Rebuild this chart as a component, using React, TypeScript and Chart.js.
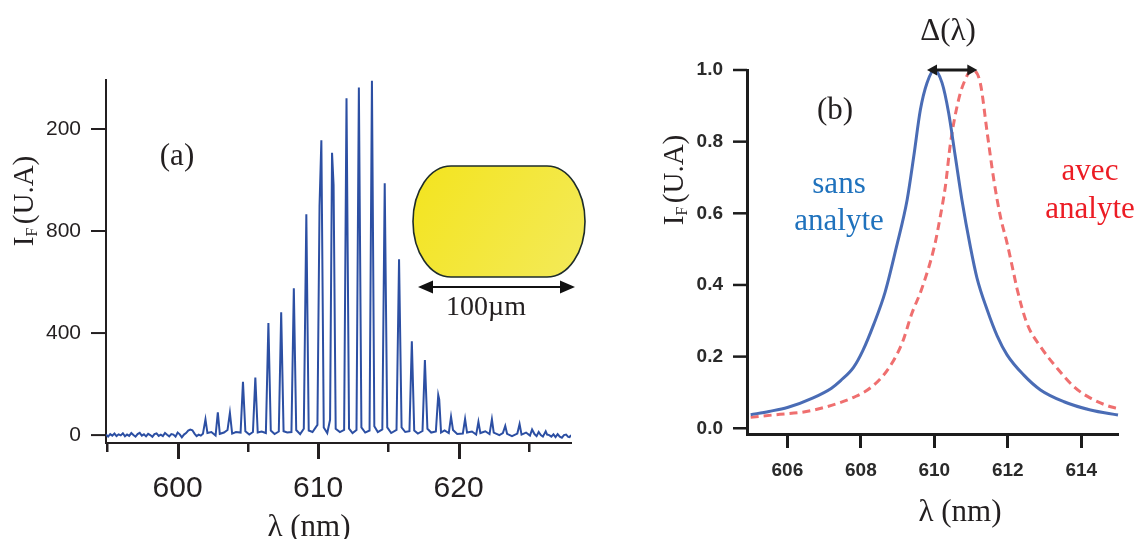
import { useEffect, useRef } from "react";
import { Chart, registerables } from "chart.js";

Chart.register(...registerables);

// ---------- Panel (a) data ----------
const lambdaA = [
  594.9, 595.05, 595.2, 595.35, 595.5, 595.65, 595.8, 595.95, 596.1, 596.25,
  596.4, 596.55, 596.7, 596.85, 597.0, 597.15, 597.3, 597.45, 597.6, 597.75,
  597.9, 598.05, 598.2, 598.35, 598.5, 598.65, 598.8, 598.95, 599.1, 599.25,
  599.4, 599.55, 599.7, 599.85, 600.0, 600.15, 600.3, 600.45, 600.6, 600.75,
  600.9, 601.05, 601.2, 601.35, 601.5, 601.65,
  601.8, 601.98, 602.12, 602.4, 602.7, 602.86, 603.0, 603.3, 603.55, 603.72,
  603.88, 604.15, 604.48, 604.65, 604.82, 605.1, 605.36, 605.53, 605.7, 605.98,
  606.28, 606.46, 606.63, 606.9, 607.2, 607.37, 607.54, 607.8, 608.1, 608.27,
  608.44, 608.72, 608.98, 609.16, 609.33, 609.6, 609.95, 610.1, 610.23, 610.4,
  610.65, 610.85, 610.99, 611.1, 611.25, 611.55, 611.85, 612.02, 612.2, 612.45,
  612.73, 612.9, 613.08, 613.35, 613.66, 613.83, 614.0, 614.25, 614.57, 614.74,
  614.92, 615.2, 615.58, 615.76, 615.94, 616.2, 616.5, 616.67, 616.84, 617.1,
  617.43, 617.6, 617.78, 618.05, 618.38, 618.55, 618.62, 618.75, 619.0, 619.3,
  619.46, 619.6, 619.9, 620.3, 620.46, 620.6, 620.95, 621.25, 621.41, 621.55,
  621.9, 622.2, 622.37, 622.5, 622.9, 623.15, 623.32, 623.45, 623.8, 624.18,
  624.34, 624.48, 624.8, 625.08, 625.23, 625.4,
  625.55, 625.7, 625.85, 626.0, 626.2, 626.3, 626.45, 626.6, 626.75, 626.9,
  627.05, 627.2, 627.35, 627.5, 627.65, 627.8, 627.9, 628.0,
];
const intensityA = [
  2, -6, 4, -2, 6, -4, 3, -1, 7, -5,
  2, -3, 8, 0, -6, 4, 9, -2, 3, -5,
  5, 0, -7, 4, 7, -3, 2, -4, 8, 1,
  -5, 4, 2, -6, 10, 3, -9, 2, 8, 18,
  22, 19, 6, -4, 2, -2,
  5, 62, 8, 12, -2, 89, 5, 10, 20, 87,
  6, 12, 10, 209, 15, 2, 12, 226, 10, 14,
  8, 439, 18, 4, 14, 481, 15, 10, 12, 576,
  20, 4, 25, 866, 18, 12, 40, 900, 1156, 30,
  8, 60, 1107, 980, 25, 12, 20, 1320, 25, 8,
  20, 1363, 30, 10, 18, 1389, 35, 12, 22, 987,
  30, 8, 20, 689, 30, 12, 15, 368, 18, 6,
  16, 294, 25, 10, 14, 157, 140, 10, 18, 8,
  72, 20, 4, 6, 63, 10, 14, 2, 52, 8,
  15, 4, 62, 10, 0, 8, 36, 5, -4, 6,
  43, 2, 10, -2, 22, 4,
  -4, 12, 0, -6, 15, 2, 0, -6, 3, -8,
  4, -6, -10, 0, 2, -7, -8, 0,
];
const yTickValuesA = [0, 400, 800, 1200];
const yTickLabelsA = ["0", "400", "800", "200"];
const xMajorTicksA = [600, 610, 620];
const xMinorTicksA = [595, 605, 615, 625];

// ---------- Panel (b) data ----------
const lambdaSans = [
  605.0, 605.5, 606.0, 606.7, 607.2, 607.45, 607.8, 608.05, 608.35, 608.66,
  608.97, 609.26, 609.44, 609.62, 609.8, 610.0, 610.21, 610.39, 610.57, 610.75,
  610.98, 611.16, 611.44, 611.71, 611.98, 612.43, 612.89, 613.53, 614.25, 615.0,
];
const intensitySans = [
  0.038, 0.047, 0.058, 0.085, 0.112, 0.133, 0.17, 0.216, 0.29, 0.38,
  0.507, 0.638, 0.759, 0.889, 0.964, 1.0, 0.964, 0.88, 0.759, 0.638,
  0.507, 0.42, 0.33, 0.258, 0.205, 0.149, 0.107, 0.074, 0.051, 0.037,
];
const lambdaAvec = [
  605.0, 605.7, 606.48, 607.2, 607.84, 608.3, 608.76, 609.12, 609.39, 609.66,
  610.0, 610.16, 610.3, 610.44, 610.66, 610.84, 611.02, 611.25, 611.44, 611.62,
  611.8, 611.98, 612.16, 612.25, 612.52, 612.89, 613.34, 613.8, 614.25, 614.8, 615.0,
];
const intensityAvec = [
  0.031, 0.038, 0.046, 0.064, 0.088, 0.116, 0.168, 0.237, 0.321, 0.39,
  0.507, 0.59, 0.675, 0.796, 0.917, 0.973, 1.0, 0.964, 0.824, 0.693,
  0.59, 0.517, 0.433, 0.39, 0.293, 0.228, 0.168, 0.116, 0.084, 0.06, 0.055,
];
const yTickValuesB = [0, 0.2, 0.4, 0.6, 0.8, 1.0];
const yTickLabelsB = ["0.0", "0.2", "0.4", "0.6", "0.8", "1.0"];
const xTickValuesB = [606, 608, 610, 612, 614];
const xTickLabelsB = ["606", "608", "610", "612", "614"];

const SERIF = '"Liberation Serif", "Times New Roman", serif';
const SANS = '"Liberation Sans", Arial, sans-serif';

function drawIF(ctx: CanvasRenderingContext2D, x: number, cy: number, size: number, color: string) {
  ctx.save();
  ctx.translate(x, cy);
  ctx.rotate(-Math.PI / 2);
  ctx.fillStyle = color;
  ctx.textAlign = "left";
  ctx.textBaseline = "alphabetic";
  const main = `${size}px ${SERIF}`;
  const sub = `${Math.round(size * 0.56)}px ${SERIF}`;
  ctx.font = main;
  const wI = ctx.measureText("I").width;
  const wR = ctx.measureText("(U.A)").width;
  ctx.font = sub;
  const wF = ctx.measureText("F").width;
  const gap = size * 0.12;
  const total = wI + wF + gap + wR;
  let px = -total / 2;
  ctx.font = main;
  ctx.fillText("I", px, 0);
  px += wI;
  ctx.font = sub;
  ctx.fillText("F", px, size * 0.15);
  px += wF + gap;
  ctx.font = main;
  ctx.fillText("(U.A)", px, 0);
  ctx.restore();
}

function doubleArrow(ctx: CanvasRenderingContext2D, x1: number, x2: number, y: number, head: number, half: number, lw: number, color: string) {
  ctx.save();
  ctx.strokeStyle = color;
  ctx.fillStyle = color;
  ctx.lineWidth = lw;
  ctx.beginPath();
  ctx.moveTo(x1 + head * 0.7, y);
  ctx.lineTo(x2 - head * 0.7, y);
  ctx.stroke();
  ctx.beginPath();
  ctx.moveTo(x1, y);
  ctx.lineTo(x1 + head, y - half);
  ctx.lineTo(x1 + head, y + half);
  ctx.closePath();
  ctx.fill();
  ctx.beginPath();
  ctx.moveTo(x2, y);
  ctx.lineTo(x2 - head, y - half);
  ctx.lineTo(x2 - head, y + half);
  ctx.closePath();
  ctx.fill();
  ctx.restore();
}

const decorA = {
  id: "decorA",
  afterDraw(chart: any) {
    const ctx: CanvasRenderingContext2D = chart.ctx;
    const xs = chart.scales.x;
    const ys = chart.scales.y;
    const area = chart.chartArea;
    const ink = "#231f20";
    ctx.save();
    ctx.strokeStyle = ink;
    ctx.fillStyle = ink;
    ctx.lineWidth = 2;
    for (const v of yTickValuesA) {
      const y = ys.getPixelForValue(v);
      ctx.beginPath();
      ctx.moveTo(area.left - 15, y);
      ctx.lineTo(area.left, y);
      ctx.stroke();
    }
    const axisY = Math.round(area.bottom);
    for (const v of xMajorTicksA) {
      const x = Math.round(xs.getPixelForValue(v));
      ctx.fillRect(x - 1, axisY, 3, 16);
    }
    for (const v of xMinorTicksA) {
      const x = Math.round(xs.getPixelForValue(v));
      ctx.fillRect(x - 1, axisY, 2.5, 9);
    }

    // labels
    ctx.fillStyle = ink;
    ctx.textAlign = "center";
    ctx.textBaseline = "middle";
    ctx.font = `31px ${SERIF}`;
    ctx.fillText("(a)", 177, 157);
    ctx.fillText("\u03bb (nm)", 309, 528);
    drawIF(ctx, 33, 201, 29, ink);

    // inset: yellow particle
    const L = 413, R = 585, T = 166, B = 277, rx = 38;
    const cy = (T + B) / 2, ry = (B - T) / 2;
    ctx.beginPath();
    ctx.moveTo(L + rx, T);
    ctx.lineTo(R - rx, T);
    ctx.ellipse(R - rx, cy, rx, ry, 0, -Math.PI / 2, Math.PI / 2);
    ctx.lineTo(L + rx, B);
    ctx.ellipse(L + rx, cy, rx, ry, 0, Math.PI / 2, Math.PI * 1.5);
    ctx.closePath();
    const g = ctx.createLinearGradient(L, T, R, B);
    g.addColorStop(0, "#f3e41e");
    g.addColorStop(1, "#f3ea5a");
    ctx.fillStyle = g;
    ctx.fill();
    ctx.strokeStyle = "#1e2c2a";
    ctx.lineWidth = 1.6;
    ctx.stroke();

    doubleArrow(ctx, 418, 575, 287, 15, 6.5, 2, "#111");
    ctx.fillStyle = ink;
    ctx.textAlign = "center";
    ctx.textBaseline = "alphabetic";
    ctx.font = `28px ${SERIF}`;
    ctx.fillText("100\u00b5m", 486, 315);
    ctx.restore();
  },
};

const decorB = {
  id: "decorB",
  afterDraw(chart: any) {
    const ctx: CanvasRenderingContext2D = chart.ctx;
    const xs = chart.scales.x;
    const ys = chart.scales.y;
    const area = chart.chartArea;
    const ink = "#1c1c1c";
    ctx.save();
    ctx.strokeStyle = ink;
    ctx.lineWidth = 2.5;
    for (const v of yTickValuesB) {
      const y = ys.getPixelForValue(v);
      ctx.beginPath();
      ctx.moveTo(area.left - 14, y);
      ctx.lineTo(area.left, y);
      ctx.stroke();
    }

    // delta lambda arrow
    const yTop = ys.getPixelForValue(1.0);
    doubleArrow(ctx, xs.getPixelForValue(609.8), xs.getPixelForValue(611.17), yTop, 10, 5.5, 3, "#1a1a1a");

    ctx.fillStyle = "#231f20";
    ctx.textAlign = "center";
    ctx.textBaseline = "middle";
    ctx.font = `31px ${SERIF}`;
    ctx.fillText("\u0394(\u03bb)", 348, 32);
    ctx.fillText("(b)", 235, 111);
    ctx.fillText("\u03bb (nm)", 360, 513);
    drawIF(ctx, 83, 180, 29, "#231f20");

    ctx.textBaseline = "alphabetic";
    ctx.font = `31px ${SERIF}`;
    ctx.fillStyle = "#1f72bd";
    ctx.fillText("sans", 239, 193);
    ctx.fillText("analyte", 239, 230);
    ctx.fillStyle = "#ec1c24";
    ctx.fillText("avec", 490, 180);
    ctx.fillText("analyte", 490, 218);
    ctx.restore();
  },
};

export default function App() {
  const refA = useRef<HTMLCanvasElement>(null);
  const refB = useRef<HTMLCanvasElement>(null);

  useEffect(() => {
    document.body.style.margin = "0";
    const chartA = new Chart(refA.current as HTMLCanvasElement, {
      type: "scatter",
      data: {
        datasets: [
          {
            data: lambdaA.map((x, i) => ({ x, y: intensityA[i] })),
            showLine: true,
            borderColor: "#2c4fa3",
            borderWidth: 2,
            pointRadius: 0,
            tension: 0,
          },
        ],
      },
      options: {
        responsive: false,
        animation: false,
        devicePixelRatio: 1,
        events: [],
        layout: { padding: { left: 0, top: 80, right: 29, bottom: 0 } },
        plugins: { legend: { display: false }, tooltip: { enabled: false } },
        scales: {
          x: {
            type: "linear",
            min: 594.9,
            max: 628,
            afterFit: (s: any) => {
              s.height = 96;
            },
            afterBuildTicks: (s: any) => {
              s.ticks = xMajorTicksA.map((v) => ({ value: v }));
            },
            grid: { display: false, drawTicks: false, tickLength: 0 },
            border: { display: true, color: "#231f20", width: 2 },
            ticks: {
              padding: 28,
              autoSkip: false,
              maxRotation: 0,
              color: "#231f20",
              font: { family: SANS, size: 30 },
              callback: (v: any) => String(v),
            },
          },
          y: {
            type: "linear",
            min: -31,
            max: 1392,
            afterFit: (s: any) => {
              s.width = 106;
            },
            afterBuildTicks: (s: any) => {
              s.ticks = yTickValuesA.map((v) => ({ value: v }));
            },
            grid: { display: false, drawTicks: false, tickLength: 0 },
            border: { display: true, color: "#231f20", width: 2 },
            ticks: {
              padding: 25,
              autoSkip: false,
              color: "#231f20",
              font: { family: SANS, size: 21 },
              callback: (_v: any, i: number) => yTickLabelsA[i],
            },
          },
        },
      },
      plugins: [decorA],
    } as any);

    const chartB = new Chart(refB.current as HTMLCanvasElement, {
      type: "scatter",
      data: {
        datasets: [
          {
            label: "sans analyte",
            data: lambdaSans.map((x, i) => ({ x, y: intensitySans[i] })),
            showLine: true,
            borderColor: "#4a6cb5",
            borderWidth: 3,
            pointRadius: 0,
            cubicInterpolationMode: "monotone",
            clip: 6,
            order: 0,
          },
          {
            label: "avec analyte",
            data: lambdaAvec.map((x, i) => ({ x, y: intensityAvec[i] })),
            showLine: true,
            borderColor: "#ef6f6f",
            borderWidth: 3,
            borderDash: [8, 5],
            pointRadius: 0,
            cubicInterpolationMode: "monotone",
            clip: 6,
            order: 1,
          },
        ],
      },
      options: {
        responsive: false,
        animation: false,
        devicePixelRatio: 1,
        events: [],
        layout: { padding: { left: 0, top: 70, right: 21, bottom: 0 } },
        plugins: { legend: { display: false }, tooltip: { enabled: false } },
        scales: {
          x: {
            type: "linear",
            min: 604.9,
            max: 615.0,
            afterFit: (s: any) => {
              s.height = 105;
            },
            afterBuildTicks: (s: any) => {
              s.ticks = xTickValuesB.map((v) => ({ value: v }));
            },
            grid: {
              display: true,
              drawOnChartArea: false,
              drawTicks: true,
              tickLength: 14,
              tickWidth: 3,
              tickColor: "#1c1c1c",
              color: "#1c1c1c",
            },
            border: { display: true, color: "#1c1c1c", width: 3 },
            ticks: {
              padding: 11,
              autoSkip: false,
              maxRotation: 0,
              color: "#2a2a2a",
              font: { family: SANS, size: 19, weight: "bold" },
              callback: (_v: any, i: number) => xTickLabelsB[i],
            },
          },
          y: {
            type: "linear",
            min: -0.016,
            max: 1.0,
            afterFit: (s: any) => {
              s.width = 147;
            },
            afterBuildTicks: (s: any) => {
              s.ticks = yTickValuesB.map((v) => ({ value: v }));
            },
            grid: { display: false, drawTicks: false, tickLength: 0 },
            border: { display: true, color: "#1c1c1c", width: 3 },
            ticks: {
              padding: 24,
              autoSkip: false,
              color: "#2a2a2a",
              font: { family: SANS, size: 19, weight: "bold" },
              callback: (_v: any, i: number) => yTickLabelsB[i],
            },
          },
        },
      },
      plugins: [decorB],
    } as any);

    return () => {
      chartA.destroy();
      chartB.destroy();
    };
  }, []);

  return (
    <div style={{ position: "relative", width: 1139, height: 539, background: "#fff", overflow: "hidden" }}>
      <canvas
        ref={refA}
        width={600}
        height={539}
        style={{ position: "absolute", left: 0, top: 0, width: 600, height: 539 }}
      />
      <canvas
        ref={refB}
        width={539}
        height={539}
        style={{ position: "absolute", left: 600, top: 0, width: 539, height: 539 }}
      />
    </div>
  );
}
